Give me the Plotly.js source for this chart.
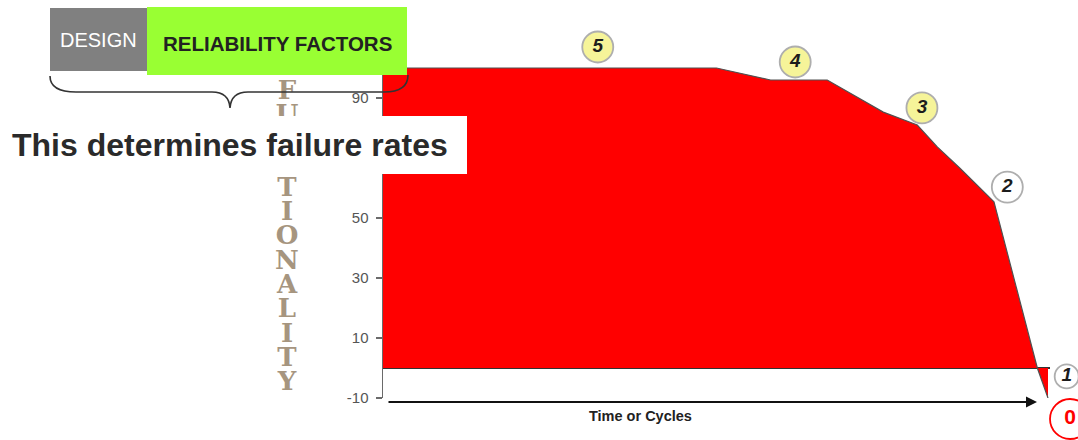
<!DOCTYPE html>
<html>
<head>
<meta charset="utf-8">
<script src="https://cdn.plot.ly/plotly-3.0.1.min.js"></script>
<style>html,body{margin:0;padding:0;background:#fff;}#chart{width:1078px;height:440px;}</style>
</head>
<body>
<div id="chart"></div>
<script>
// ---- data ----
const timeCycles    = [0, 50, 58.1, 66.6, 75.0, 80.1, 83.1, 86.5, 91.6, 98.1, 99.7];
const functionality = [100, 100, 96, 96, 85.3, 81, 73.7, 66.6, 55.4, 0, -10];

const stageLabels = ['5', '4', '3', '2', '1'];
const stageX      = [32.2, 61.8, 80.8, 93.6, 102.5];
const stageY      = [107, 102, 86.7, 60.3, -2.8];
const stageFill   = ['#f3f06e', '#f3f06e', '#f3f06e', '#ffffff', '#ffffff'];
const stageSize   = [31, 31, 31, 31, 24];

const endLabel = ['0'];
const endX = [103.0];
const endY = [-17.0];

const yTickVals = [-10, 10, 30, 50, 90];
const yTickText = ['-10', '10', '30', '50', '90'];
const yTitleLetters = 'FUNCTIONALITY'.split('');
const xTitle = 'Time or Cycles';
const headerLeft = 'DESIGN';
const headerRight = 'RELIABILITY FACTORS';
const caption = 'This determines failure rates';

// ---- layout helpers ----
const W = 1078, H = 440;
const fx = p => p / W;
const fy = p => 1 - p / H;
const PX0 = 383, PX1 = 1050, PY0 = 398, PY1 = 62;
const XR = [0, 100], YR = [-10, 102];
const pxToX = p => XR[0] + (p - PX0) / (PX1 - PX0) * (XR[1] - XR[0]);
const pyToY = p => YR[0] + (PY0 - p) / (PY0 - PY1) * (YR[1] - YR[0]);
// full-figure overlay axes with the same scale as the main axes
const XR2 = [pxToX(0), pxToX(W)];
const YR2 = [pyToY(H), pyToY(0)];

const letterX = yTitleLetters.map(() => pxToX(287));
const letterY = yTitleLetters.map((_, i) => pyToY(92 + i * 24.3));

const traces = [
  {
    type: 'scatter', mode: 'lines', x: timeCycles, y: functionality,
    fill: 'tozeroy', fillcolor: '#ff0000',
    line: {color: '#505050', width: 1.2}, hoverinfo: 'skip', showlegend: false
  },
  {
    type: 'scatter', mode: 'text', x: letterX, y: letterY, text: yTitleLetters,
    xaxis: 'x2', yaxis: 'y2',
    textposition: 'middle center', hoverinfo: 'skip', showlegend: false,
    textfont: {family: 'DejaVu Serif', size: 26, color: '#a6957f', weight: 'bold'}
  },
  {
    type: 'scatter', mode: 'markers+text', x: stageX, y: stageY, text: stageLabels,
    xaxis: 'x2', yaxis: 'y2',
    textposition: 'middle center', hoverinfo: 'skip', showlegend: false,
    marker: {size: stageSize, color: stageFill, line: {color: '#8c8c8c', width: 1.8}},
    textfont: {family: 'Liberation Sans', size: 19, color: '#1c1c1c', weight: 'bold', style: 'italic'}
  },
  {
    type: 'scatter', mode: 'markers+text', x: endX, y: endY, text: endLabel,
    xaxis: 'x2', yaxis: 'y2',
    textposition: 'middle center', hoverinfo: 'skip', showlegend: false,
    marker: {size: 40, color: '#ffffff', line: {color: '#ff0000', width: 1.8}},
    textfont: {family: 'Liberation Sans', size: 21, color: '#ff0000', weight: 'bold'}
  }
];

function P(x, y) { return fx(x).toFixed(5) + ',' + fy(y).toFixed(5); }
const bracePath = 'M' + P(50, 76) + ' Q' + P(50, 92) + ' ' + P(76, 92) +
  ' L' + P(212, 92) + ' Q' + P(229, 92) + ' ' + P(230, 108) +
  ' Q' + P(231, 92) + ' ' + P(248, 92) +
  ' L' + P(384, 92) + ' Q' + P(408, 92) + ' ' + P(408, 75);

const hiddenAxis = {showgrid: false, zeroline: false, showline: false, showticklabels: false, ticks: ''};

const layout = {
  width: W, height: H,
  margin: {l: 0, r: 0, t: 0, b: 0},
  paper_bgcolor: '#ffffff', plot_bgcolor: 'rgba(0,0,0,0)',
  showlegend: false,
  xaxis: Object.assign({domain: [fx(PX0), fx(PX1)], range: XR}, hiddenAxis),
  yaxis: {
    domain: [fy(PY0), fy(PY1)], range: YR, showgrid: false,
    zeroline: true, zerolinecolor: '#333333', zerolinewidth: 1.5,
    showline: true, linecolor: '#6a6a6a', linewidth: 1.5,
    ticks: 'outside', ticklen: 6, tickwidth: 1.2, tickcolor: '#6a6a6a',
    tickvals: yTickVals, ticktext: yTickText, ticklabelstandoff: 4,
    tickfont: {family: 'Liberation Sans', size: 15, color: '#555555'},
    layer: 'above traces'
  },
  xaxis2: Object.assign({domain: [0, 1], range: XR2, anchor: 'y2'}, hiddenAxis),
  yaxis2: Object.assign({domain: [0, 1], range: YR2, anchor: 'x2'}, hiddenAxis),
  shapes: [
    {type: 'rect', xref: 'paper', yref: 'paper', x0: fx(50), x1: fx(147), y0: fy(71), y1: fy(8),
     fillcolor: '#808080', line: {width: 0}, layer: 'above'},
    {type: 'rect', xref: 'paper', yref: 'paper', x0: fx(147), x1: fx(407), y0: fy(75), y1: fy(7),
     fillcolor: '#99ff33', line: {width: 0}, layer: 'above'},
    {type: 'path', xref: 'paper', yref: 'paper', path: bracePath,
     line: {color: '#333333', width: 1.6}, layer: 'above'},
    {type: 'rect', xref: 'paper', yref: 'paper', x0: fx(0), x1: fx(467), y0: fy(174), y1: fy(116),
     fillcolor: '#ffffff', line: {width: 0}, layer: 'above'}
  ],
  annotations: [
    {xref: 'paper', yref: 'paper', x: fx(98), y: fy(40), xanchor: 'center', yanchor: 'middle',
     text: headerLeft, showarrow: false,
     font: {family: 'Liberation Sans', size: 20, color: '#ffffff'}},
    {xref: 'paper', yref: 'paper', x: fx(277), y: fy(43), xanchor: 'center', yanchor: 'middle',
     text: '<b>' + headerRight + '</b>', showarrow: false,
     font: {family: 'Liberation Sans', size: 20.5, color: '#222222'}},
    {xref: 'paper', yref: 'paper', x: fx(10), y: fy(145), xanchor: 'left', yanchor: 'middle',
     text: '<b>' + caption + '</b>', showarrow: false,
     font: {family: 'Liberation Sans', size: 32, color: '#2a2a2a'}},
    {xref: 'paper', yref: 'paper', x: fx(640), y: fy(416), xanchor: 'center', yanchor: 'middle',
     text: '<b>' + xTitle + '</b>', showarrow: false,
     font: {family: 'Liberation Sans', size: 14.5, color: '#222222'}},
    {xref: 'paper', yref: 'paper', x: fx(1037), y: fy(402), text: '', showarrow: true,
     axref: 'pixel', ayref: 'pixel', ax: -650, ay: 0,
     arrowhead: 2, arrowsize: 1, arrowwidth: 2.2, arrowcolor: '#111111', standoff: 0, startstandoff: 0}
  ]
};

Plotly.newPlot('chart', traces, layout, {staticPlot: true, displayModeBar: false});
</script>
</body>
</html>
